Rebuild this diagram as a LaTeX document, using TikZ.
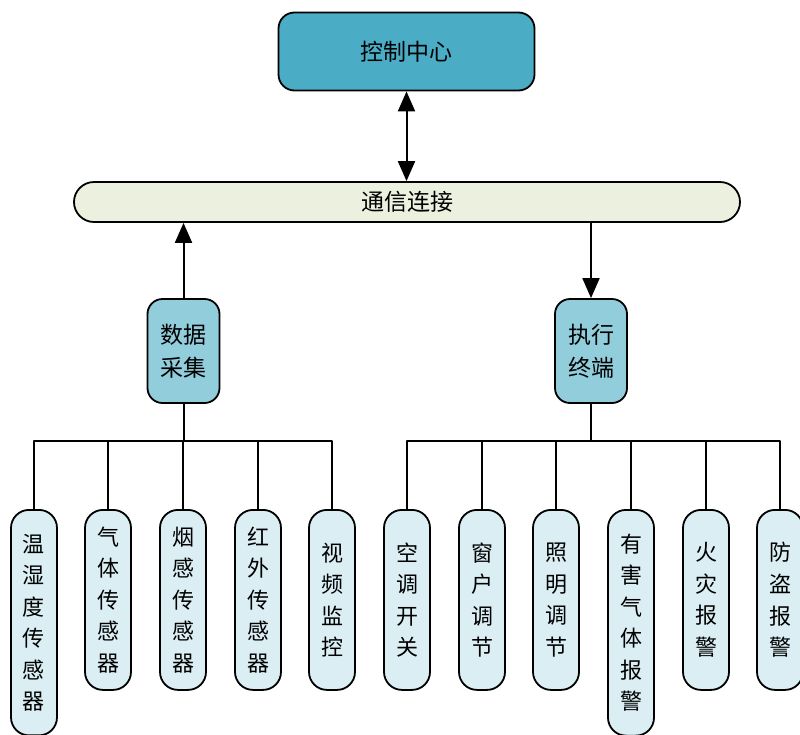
\documentclass[tikz,border=0pt]{standalone}
\usepackage{xcolor}
\usepackage{fontspec}
\usetikzlibrary{arrows.meta, calc}
\newfontfamily\cjk{Noto Sans CJK SC}
\definecolor{inkC}{HTML}{000000}
\definecolor{ctrlC}{HTML}{4BACC6}
\definecolor{midC}{HTML}{92CDDC}
\definecolor{leafC}{HTML}{DAEEF3}
\definecolor{busC}{HTML}{EBF1DE}

\begin{document}
\begin{tikzpicture}[
  x=1pt,
  y=-1pt,
  line cap=round,
  line join=round,
  box/.style={draw=inkC, line width=1.8pt, align=center, inner sep=2pt,
    font=\cjk\fontsize{23}{33}\selectfont},
  ctrlbox/.style={box, fill=ctrlC, minimum width=256pt, minimum height=78pt, rounded corners=16pt},
  busbox/.style={box, fill=busC, minimum width=666pt, minimum height=40pt, rounded corners=20pt},
  midbox/.style={box, fill=midC, minimum width=72pt, minimum height=104pt, rounded corners=15pt},
  leaf/.style={box, fill=leafC, anchor=north, minimum width=46pt, minimum height=180pt,
    inner ysep=10pt, rounded corners=18pt, font=\cjk\fontsize{22}{31.5}\selectfont},
  longleaf/.style={leaf, inner ysep=24pt},
  link/.style={draw=inkC, line width=2pt},
  tip/.style={-{Triangle[length=20pt, width=17pt]}}
]

\useasboundingbox (0,0) rectangle (800,734);

% Top level
\node[ctrlbox] (ctrl) at (406.5,51.5) {控制中心};
\node[busbox]  (bus)  at (407,202)    {通信连接};

% Second level
\node[midbox] (cj) at (183.5,351) {数据\\采集};
\node[midbox] (zd) at (591,351)   {执行\\终端};

% Sensors
\node[longleaf] (s1) at (34,509) {温\\湿\\度\\传\\感\\器};
\node[leaf] (s2) at (108,509) {气\\体\\传\\感\\器};
\node[leaf] (s3) at (183,509) {烟\\感\\传\\感\\器};
\node[leaf] (s4) at (258,509) {红\\外\\传\\感\\器};
\node[leaf] (s5) at (332,509) {视\\频\\监\\控};

% Actuators
\node[leaf] (a1) at (407,509) {空\\调\\开\\关};
\node[leaf] (a2) at (482,509) {窗\\户\\调\\节};
\node[leaf] (a3) at (556,509) {照\\明\\调\\节};
\node[longleaf] (a4) at (631,509) {有\\害\\气\\体\\报\\警};
\node[leaf] (a5) at (706,509) {火\\灾\\报\\警};
\node[leaf] (a6) at (780,509) {防\\盗\\报\\警};

% Arrows
\draw[link, {Triangle[length=20pt, width=17pt]}-{Triangle[length=20pt, width=17pt]}]
  (ctrl.south) -- (ctrl.south |- bus.north);
\draw[link, tip] (cj.north) -- (cj.north |- bus.south);
\draw[link, tip] (bus.south -| zd.north) -- (zd.north);

% Tree branches
\coordinate (jl) at (183.5,441);
\coordinate (jr) at (591,441);
\draw[link] (cj.south) -- (jl);
\draw[link] (zd.south) -- (jr);
\foreach \n in {s1,s2,s3,s4,s5}{
  \draw[link] (jl) -| (\n.north);
}
\foreach \n in {a1,a2,a3,a4,a5,a6}{
  \draw[link] (jr) -| (\n.north);
}

\end{tikzpicture}
\end{document}
